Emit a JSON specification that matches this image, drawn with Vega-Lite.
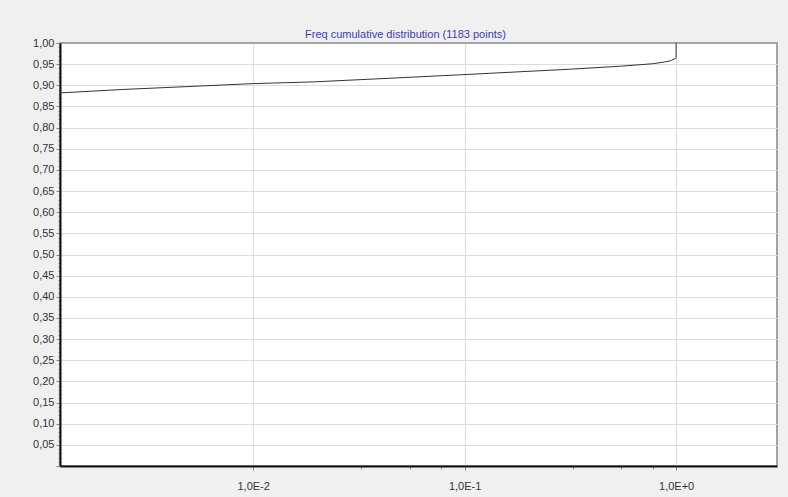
{
  "$schema": "https://vega.github.io/schema/vega-lite/v6.json",
  "width": 717,
  "height": 423,
  "autosize": {"type": "none"},
  "padding": {"left": 60, "top": 43, "right": 11, "bottom": 31},
  "background": "#f0f0f0",
  "title": {
    "text": "Freq cumulative distribution (1183 points)",
    "font": "Liberation Sans",
    "fontSize": 11,
    "fontWeight": "normal",
    "color": "#3a3ac8",
    "anchor": "middle",
    "dx": -13,
    "offset": -3
  },
  "config": {
    "view": {"fill": "white", "stroke": "#888888", "strokeWidth": 1.5},
    "axis": {
      "labelFont": "Liberation Sans",
      "labelFontSize": 11,
      "labelColor": "#333333",
      "gridColor": "#dcdcdc",
      "gridWidth": 1,
      "domainColor": "#111111",
      "domainWidth": 2,
      "tickColor": "#888888"
    }
  },
  "data": {
    "values": [
      {"x": 0.00122, "y": 0.882},
      {"x": 0.00239, "y": 0.890},
      {"x": 0.00491, "y": 0.897},
      {"x": 0.0100, "y": 0.904},
      {"x": 0.0191, "y": 0.908},
      {"x": 0.0458, "y": 0.917},
      {"x": 0.106, "y": 0.926},
      {"x": 0.314, "y": 0.938},
      {"x": 0.541, "y": 0.945},
      {"x": 0.776, "y": 0.951},
      {"x": 0.88, "y": 0.955},
      {"x": 0.94, "y": 0.958},
      {"x": 0.99, "y": 0.963},
      {"x": 1.0, "y": 0.965},
      {"x": 1.0, "y": 1.0}
    ]
  },
  "mark": {"type": "line", "color": "#333333", "strokeWidth": 1, "clip": true, "interpolate": "linear"},
  "encoding": {
    "x": {
      "field": "x",
      "type": "quantitative",
      "sort": null,
      "scale": {"type": "log", "domain": [0.00122, 3.0], "nice": false},
      "axis": {
        "title": null,
        "values": [0.01, 0.0325, 0.055, 0.0775, 0.1, 0.325, 0.55, 0.775, 1],
        "labelExpr": "abs(log(datum.value)/LN10 - round(log(datum.value)/LN10)) < 0.001 ? ('1,0E' + (round(log(datum.value)/LN10) >= 0 ? '+' : '') + round(log(datum.value)/LN10)) : ''",
        "gridOpacity": {"condition": {"test": "abs(log(datum.value)/LN10 - round(log(datum.value)/LN10)) < 0.001", "value": 1}, "value": 0},
        "tickSize": {"condition": {"test": "abs(log(datum.value)/LN10 - round(log(datum.value)/LN10)) < 0.001", "value": 4}, "value": 3},
        "labelPadding": 10,
        "labelFlush": false
      }
    },
    "y": {
      "field": "y",
      "type": "quantitative",
      "scale": {"domain": [0, 1], "nice": false, "zero": false},
      "axis": {
        "title": null,
        "values": [0,0.01,0.02,0.03,0.04,0.05,0.06,0.07,0.08,0.09,0.1,0.11,0.12,0.13,0.14,0.15,0.16,0.17,0.18,0.19,0.2,0.21,0.22,0.23,0.24,0.25,0.26,0.27,0.28,0.29,0.3,0.31,0.32,0.33,0.34,0.35,0.36,0.37,0.38,0.39,0.4,0.41,0.42,0.43,0.44,0.45,0.46,0.47,0.48,0.49,0.5,0.51,0.52,0.53,0.54,0.55,0.56,0.57,0.58,0.59,0.6,0.61,0.62,0.63,0.64,0.65,0.66,0.67,0.68,0.69,0.7,0.71,0.72,0.73,0.74,0.75,0.76,0.77,0.78,0.79,0.8,0.81,0.82,0.83,0.84,0.85,0.86,0.87,0.88,0.89,0.9,0.91,0.92,0.93,0.94,0.95,0.96,0.97,0.98,0.99,1],
        "labelExpr": "(abs(datum.value*20 - round(datum.value*20)) < 0.001 && datum.value > 0.001) ? replace(format(datum.value, '.2f'), '.', ',') : ''",
        "gridOpacity": {"condition": {"test": "abs(datum.value*20 - round(datum.value*20)) < 0.001 && datum.value > 0.001 && datum.value < 0.999", "value": 1}, "value": 0},
        "tickSize": {"condition": {"test": "abs(datum.value*20 - round(datum.value*20)) < 0.001", "value": 4}, "value": 2},
        "labelPadding": 2,
        "labelFlush": false
      }
    }
  }
}
